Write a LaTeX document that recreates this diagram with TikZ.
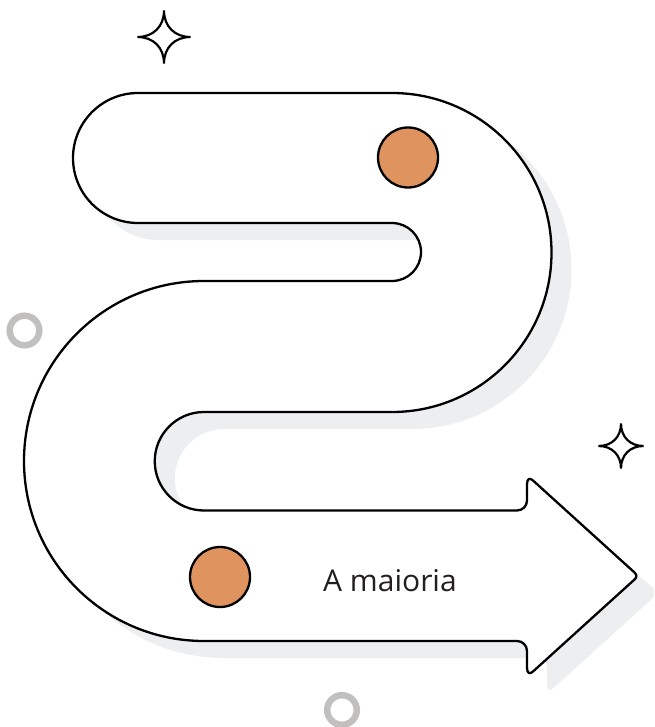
\documentclass[tikz,border=0pt]{standalone}
\usepackage{fontspec}
\setmainfont{Open Sans}
\definecolor{shadowgray}{HTML}{EDEEF0}
\definecolor{dotorange}{HTML}{DF935F}
\definecolor{ringgray}{HTML}{C2BFBF}
\definecolor{textdark}{HTML}{231F20}
\tikzset{
  outline/.style={draw=black, line width=2.3pt, line join=round},
  dotstyle/.style={outline, fill=dotorange},
  ringstyle/.style={draw=ringgray, line width=6.5pt},
  starline/.style={draw=black, line width=2.2pt, line join=miter},
  shadowfill/.style={fill=shadowgray}
}
\newcommand\serpentpath{(138,93) -- (392,93)
  arc[start angle=-90, end angle=90, radius=159.5]
  -- (204,412)
  arc[start angle=-90, end angle=-270, radius=49.25]
  -- (517,510.5)
  arc[start angle=90, end angle=0, radius=10]
  -- (527,484) .. controls (527,478.5) and (530,477.5) .. (533,480.5)
  -- (634.5,572.5) .. controls (637,575) and (637,577) .. (634.5,579.5)
  -- (533,671.5) .. controls (530,674.5) and (527,673.5) .. (527,668)
  -- (527,651)
  arc[start angle=0, end angle=-90, radius=10]
  -- (204,641)
  arc[start angle=90, end angle=270, radius=180]
  -- (392,281)
  arc[start angle=90, end angle=-90, radius=29]
  -- (138,223)
  arc[start angle=90, end angle=270, radius=65]
  -- cycle}
\newcommand\sparkle[3]{%
  \draw[starline] (#1,{#2-#3})
    .. controls (#1,{#2-0.4*#3}) and ({#1+0.4*#3},#2) .. ({#1+#3},#2)
    .. controls ({#1+0.4*#3},#2) and (#1,{#2+0.4*#3}) .. (#1,{#2+#3})
    .. controls (#1,{#2+0.4*#3}) and ({#1-0.4*#3},#2) .. ({#1-#3},#2)
    .. controls ({#1-0.4*#3},#2) and (#1,{#2-0.4*#3}) .. (#1,{#2-#3}) -- cycle;}
\begin{document}
\begin{tikzpicture}[x=1pt,y=-1pt]
\useasboundingbox (0,0) rectangle (654,727);
\clip (0,0) rectangle (654,727);
% shadow
\path[shadowfill, shift={(20,17)}] \serpentpath;
% main serpentine arrow
\path[outline, fill=white] \serpentpath;
% dots
\path[dotstyle] (408,157.5) circle[radius=30];
\path[dotstyle] (220,577) circle[radius=30];
% rings
\draw[ringstyle] (24.5,330.5) circle[radius=14.8];
\draw[ringstyle] (342,710) circle[radius=14.8];
% sparkles
\sparkle{164}{37}{26.5}
\sparkle{621}{446}{22.5}
% label
\node[anchor=base, inner sep=0pt, text=textdark, font=\fontsize{30}{36}\selectfont] (label) at (390,591) {A maioria};
\end{tikzpicture}
\end{document}
